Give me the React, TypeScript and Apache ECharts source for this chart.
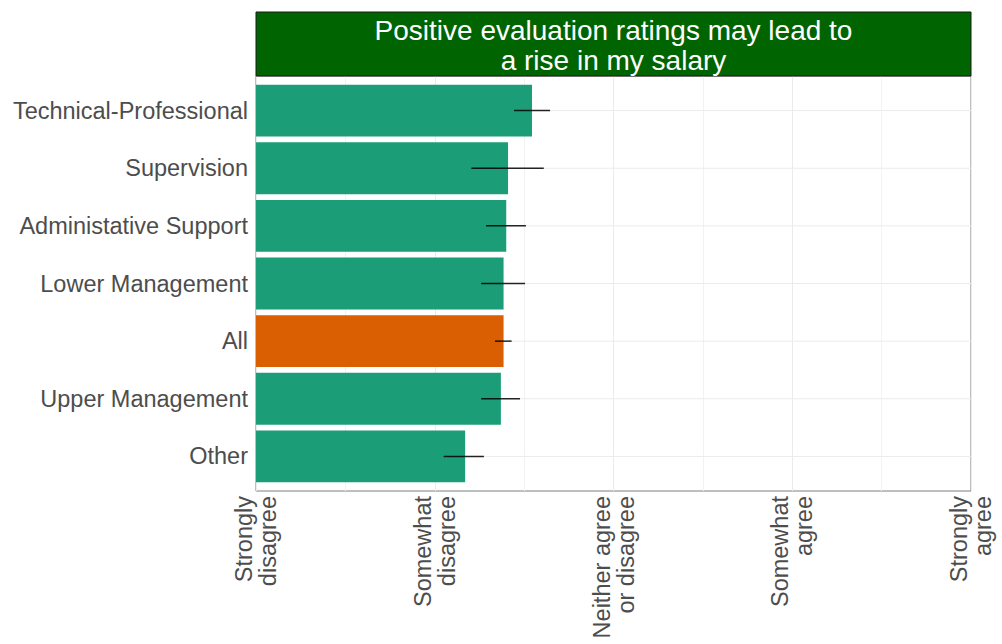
import React, { useEffect, useRef } from "react";
import * as echarts from "echarts";

const categories = [
  "Technical-Professional",
  "Supervision",
  "Administative Support",
  "Lower Management",
  "All",
  "Upper Management",
  "Other",
];
const means = [2.544, 2.41, 2.4, 2.385, 2.385, 2.37, 2.17];
const lower = [2.443, 2.205, 2.287, 2.26, 2.337, 2.26, 2.05];
const upper = [2.645, 2.61, 2.51, 2.505, 2.43, 2.477, 2.275];
const highlight = ["All"];
const tickLabels = [
  "Strongly\ndisagree",
  "Somewhat\ndisagree",
  "Neither agree\nor disagree",
  "Somewhat\nagree",
  "Strongly\nagree",
];
const titleText = "Positive evaluation ratings may lead to\na rise in my salary";

const FONT = "'Liberation Sans', Arial, sans-serif";

export default function App() {
  const ref = useRef<HTMLDivElement>(null);
  useEffect(() => {
    if (!ref.current) return;
    const chart = echarts.init(ref.current, undefined, { renderer: "svg" });
    const L = 256, R = 971, T = 76, B = 491;
    const unit = (B - T) / 7.2;
    const innerTop = T + 0.1 * unit;
    const innerH = 7 * unit;
    const option: any = {
      animation: false,
      grid: [
        { left: L, width: R - L, top: innerTop, height: innerH, containLabel: false },
        {
          left: L, width: R - L, top: T, height: B - T, containLabel: false,
          show: true, borderColor: "#7f7f7f", borderWidth: 1, backgroundColor: "#ffffff",
        },
      ],
      xAxis: [
        { gridIndex: 0, type: "value", min: 1, max: 5, show: false },
        {
          gridIndex: 1, type: "value", min: 1, max: 5, interval: 1,
          axisLine: { show: false }, axisTick: { show: false },
          splitLine: { show: true, lineStyle: { color: "#ebebeb", width: 1 } },
          minorTick: { show: false, splitNumber: 2 },
          minorSplitLine: { show: true, lineStyle: { color: "#f2f2f2", width: 1 } },
          axisLabel: {
            rotate: 90, margin: 5, fontSize: 23.5, color: "#4d4d4d", fontFamily: FONT,
            lineHeight: 24,
            formatter: (v: number) => tickLabels[Math.round(v) - 1] ?? "",
          },
        },
      ],
      yAxis: [
        {
          gridIndex: 0, type: "category", data: categories, inverse: true,
          axisLine: { show: false }, axisTick: { show: false }, splitLine: { show: false },
          axisLabel: { margin: 8, fontSize: 23.5, color: "#4d4d4d", fontFamily: FONT },
        },
        { gridIndex: 1, type: "value", min: 0, max: 1, show: false },
      ],
      series: [
        {
          type: "custom", xAxisIndex: 0, yAxisIndex: 0, z: 1, silent: true,
          data: categories.map((_, i) => [i]),
          renderItem: (params: any, api: any) => {
            const i = api.value(0);
            const a = api.coord([1, i]);
            const b = api.coord([5, i]);
            return {
              type: "line",
              shape: { x1: a[0], y1: a[1], x2: b[0], y2: b[1] },
              style: { stroke: "#ebebeb", lineWidth: 1 },
            };
          },
        },
        {
          type: "bar", xAxisIndex: 0, yAxisIndex: 0, z: 2, barWidth: "90%",
          data: means.map((v, i) => ({
            value: v,
            itemStyle: { color: highlight.includes(categories[i]) ? "#D95F02" : "#1B9E77" },
          })),
        },
        {
          type: "custom", xAxisIndex: 0, yAxisIndex: 0, z: 3, silent: true,
          data: categories.map((_, i) => [i, lower[i], upper[i]]),
          renderItem: (params: any, api: any) => {
            const i = api.value(0);
            const a = api.coord([api.value(1), i]);
            const b = api.coord([api.value(2), i]);
            return {
              type: "line",
              shape: { x1: a[0], y1: a[1], x2: b[0], y2: b[1] },
              style: { stroke: "rgba(0,0,0,0.85)", lineWidth: 1.5 },
            };
          },
        },
      ],
      graphic: [
        {
          type: "rect", z: 10,
          shape: { x: L, y: 12, width: R - L, height: T - 12 },
          style: { fill: "#006400", stroke: "#1a1a1a", lineWidth: 1 },
        },
        {
          type: "text", z: 11, x: (L + R) / 2, y: 45,
          style: {
            text: titleText, fill: "#ffffff", fontSize: 28, fontFamily: FONT,
            align: "center", verticalAlign: "middle", lineHeight: 30,
          },
        },
      ],
    };
    chart.setOption(option);
    return () => chart.dispose();
  }, []);
  return (
    <div
      ref={ref}
      style={{ width: 1002, height: 644, position: "absolute", left: 0, top: 0, background: "#fff" }}
    />
  );
}
